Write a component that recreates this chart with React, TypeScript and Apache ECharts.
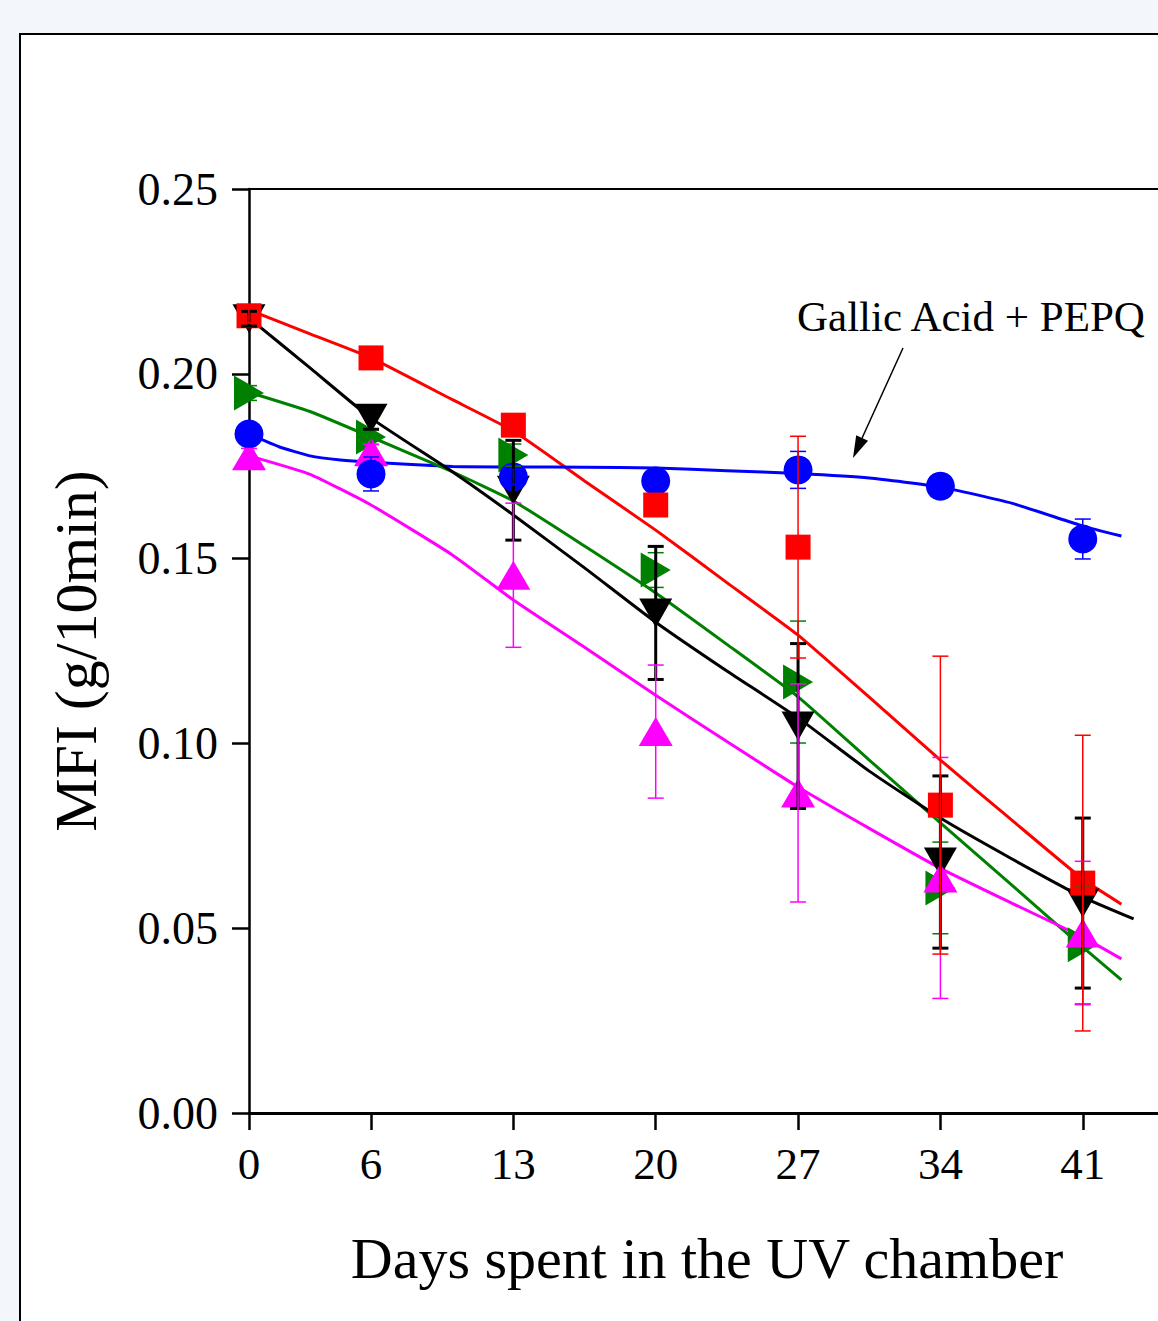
import React, { useEffect, useRef } from "react";
import * as echarts from "echarts";

// ---- data ----
const days = [0, 6, 13, 20, 27, 34, 41];
const tickDays = [0, 6, 13, 20, 27, 34, 41];

const redMean = [0.2157, 0.2043, 0.1861, 0.1645, 0.1531, 0.0833, 0.0622];
const redErr = [0.002, 0.002, 0.003, 0.002, 0.03, 0.0403, 0.04];
const blueMean = [0.1837, 0.1729, 0.1721, 0.171, 0.174, 0.1696, 0.1553];
const blueErr = [0.002, 0.0046, 0.002, 0.002, 0.005, 0.002, 0.0054];
const greenMean = [0.1948, 0.1829, 0.178, 0.1469, 0.1166, 0.0609, 0.0455];
const greenErr = [0.002, 0.002, 0.003, 0.0047, 0.0165, 0.0124, 0.016];
const blackMean = [0.2149, 0.188, 0.1685, 0.1353, 0.1047, 0.0679, 0.0568];
const blackErr = [0.002, 0.003, 0.0135, 0.018, 0.0223, 0.0233, 0.023];
const magentaMean = [0.1778, 0.1789, 0.1455, 0.1032, 0.0866, 0.0636, 0.0487];
const magentaErr = [0.002, 0.002, 0.0195, 0.018, 0.0295, 0.0326, 0.0194];

// fitted curves
const fitDays = [0, 3, 6, 10, 13, 16.5, 20, 23.5, 27, 30.5, 34, 37.5, 41, 42.9];
const blueFitDays = [0, 1.5, 3, 4.5, 6, 10, 13, 16.5, 20, 23.5, 27, 30.5, 34, 37.5, 41, 42.9];
const blackFitDays = [0, 3, 6, 10, 13, 16.5, 20, 23.5, 27, 30.5, 34, 37.5, 41, 43.5];
const redFit = [0.2173, 0.2108, 0.2043, 0.193, 0.1845, 0.171, 0.1577, 0.1435, 0.1293, 0.1125, 0.0955, 0.0793, 0.0633, 0.0565];
const blueFit = [0.1837, 0.1802, 0.1778, 0.1767, 0.1761, 0.1749, 0.1748, 0.1747, 0.1745, 0.1738, 0.173, 0.1718, 0.1694, 0.165, 0.1588, 0.1561];
const greenFit = [0.195, 0.1898, 0.1829, 0.1735, 0.1656, 0.1534, 0.1407, 0.1268, 0.1126, 0.0955, 0.0785, 0.0617, 0.0449, 0.036];
const blackFit = [0.2151, 0.2016, 0.188, 0.1735, 0.1618, 0.1475, 0.1328, 0.1196, 0.1069, 0.0925, 0.0798, 0.0688, 0.0584, 0.0525];
const magentaFit = [0.1778, 0.1728, 0.1645, 0.151, 0.1388, 0.126, 0.113, 0.1005, 0.0882, 0.077, 0.0662, 0.0568, 0.0476, 0.0417];

const FONT = '"Liberation Serif", "Times New Roman", serif';

const RED = "#ff0000";
const BLUE = "#0000ff";
const GREEN = "#008000";
const BLACK = "#000000";
const MAGENTA = "#ff00ff";

function zip(xs: number[], ys: number[]) {
  return xs.map((x, i) => [x, ys[i]]);
}
function zip3(xs: number[], ys: number[], es: number[]) {
  return xs.map((x, i) => [x, ys[i], es[i]]);
}

function fitSeries(xs: number[], ys: number[], color: string) {
  return {
    type: "line",
    data: zip(xs, ys),
    showSymbol: false,
    smooth: 0.15,
    lineStyle: { color, width: 3 },
    z: 2,
    silent: true,
  };
}

function markerSeries(ys: number[], color: string, symbol: string, size: any, rotate: number, z: number) {
  return {
    type: "scatter",
    data: zip(days, ys),
    symbol,
    symbolSize: size,
    symbolRotate: rotate,
    itemStyle: { color, opacity: 1 },
    z,
  };
}

function errSeries(ys: number[], es: number[], color: string, width: number, z: number) {
  return {
    type: "custom",
    data: zip3(days, ys, es),
    encode: { x: 0, y: 1 },
    z,
    silent: true,
    renderItem: (params: any, api: any) => {
      const x = api.value(0);
      const y = api.value(1);
      const e = api.value(2);
      const top = api.coord([x, y + e]);
      const bot = api.coord([x, y - e]);
      const cap = 8;
      const style = { stroke: color, lineWidth: width };
      return {
        type: "group",
        children: [
          { type: "line", shape: { x1: top[0], y1: top[1], x2: bot[0], y2: bot[1] }, style },
          { type: "line", shape: { x1: top[0] - cap, y1: top[1], x2: top[0] + cap, y2: top[1] }, style },
          { type: "line", shape: { x1: bot[0] - cap, y1: bot[1], x2: bot[0] + cap, y2: bot[1] }, style },
        ],
      };
    },
  };
}

export default function App() {
  const ref = useRef<HTMLDivElement>(null);

  useEffect(() => {
    if (!ref.current) return;
    const chart = echarts.init(ref.current, undefined, { renderer: "svg" });

    const tipX = 853, tipY = 458, startX = 903, startY = 348;
    const dx = tipX - startX, dy = tipY - startY;
    const len = Math.sqrt(dx * dx + dy * dy);
    const ux = dx / len, uy = dy / len;
    const headLen = 22, headHalf = 6.5;
    const bx = tipX - ux * headLen, by = tipY - uy * headLen;
    const px = -uy, py = ux;

    chart.setOption({
      animation: false,
      backgroundColor: "transparent",
      grid: { left: 249, top: 189, right: 0, height: 924, containLabel: false },
      xAxis: [
        {
          type: "value",
          min: 0,
          max: 44.7,
          position: "bottom",
          axisLine: { show: true, onZero: false, lineStyle: { color: BLACK, width: 3 } },
          axisTick: { show: true, inside: false, length: 17, lineStyle: { color: BLACK, width: 2.5 }, customValues: tickDays },
          axisLabel: { show: true, customValues: tickDays, color: BLACK, fontFamily: FONT, fontSize: 45, margin: 28 },
          splitLine: { show: false },
        },
        {
          type: "value",
          min: 0,
          max: 44.7,
          position: "top",
          axisLine: { show: true, onZero: false, lineStyle: { color: BLACK, width: 2 } },
          axisTick: { show: false },
          axisLabel: { show: false },
          splitLine: { show: false },
        },
      ],
      yAxis: [
        {
          type: "value",
          min: 0,
          max: 0.25,
          interval: 0.05,
          position: "left",
          axisLine: { show: true, onZero: false, lineStyle: { color: BLACK, width: 2.5 } },
          axisTick: { show: true, inside: false, length: 17, lineStyle: { color: BLACK, width: 2.5 } },
          axisLabel: {
            color: BLACK,
            fontFamily: FONT,
            fontSize: 46,
            margin: 31,
            formatter: (v: number) => v.toFixed(2),
          },
          splitLine: { show: false },
        },
      ],
      graphic: [
        {
          type: "text",
          x: 707,
          y: 1258,
          style: {
            text: "Days spent in the UV chamber",
            fontFamily: FONT,
            fontSize: 58,
            fill: BLACK,
            textAlign: "center",
            textVerticalAlign: "middle",
          },
        },
        {
          type: "text",
          x: 76,
          y: 651,
          rotation: Math.PI / 2,
          style: {
            text: "MFI (g/10min)",
            fontFamily: FONT,
            fontSize: 60,
            fill: BLACK,
            textAlign: "center",
            textVerticalAlign: "middle",
          },
        },
        {
          type: "text",
          x: 797,
          y: 316,
          style: {
            text: "Gallic Acid + PEPQ",
            fontFamily: FONT,
            fontSize: 43,
            fill: BLACK,
            textAlign: "left",
            textVerticalAlign: "middle",
          },
        },
        {
          type: "line",
          shape: { x1: startX, y1: startY, x2: bx, y2: by },
          style: { stroke: BLACK, lineWidth: 1.5 },
        },
        {
          type: "polygon",
          shape: {
            points: [
              [tipX, tipY],
              [bx + px * headHalf, by + py * headHalf],
              [bx - px * headHalf, by - py * headHalf],
            ],
          },
          style: { fill: BLACK },
        },
      ],
      series: [
        fitSeries(fitDays, redFit, RED),
        fitSeries(blueFitDays, blueFit, BLUE),
        fitSeries(fitDays, greenFit, GREEN),
        fitSeries(blackFitDays, blackFit, BLACK),
        fitSeries(fitDays, magentaFit, MAGENTA),
        markerSeries(greenMean, GREEN, "triangle", [35, 30], -90, 3),
        markerSeries(blackMean, BLACK, "triangle", [33, 29], 180, 4),
        markerSeries(magentaMean, MAGENTA, "triangle", [34, 29], 0, 5),
        markerSeries(blueMean, BLUE, "circle", 29, 0, 6),
        markerSeries(redMean, RED, "rect", 25, 0, 7),
        errSeries(greenMean, greenErr, GREEN, 1.5, 8),
        errSeries(blackMean, blackErr, BLACK, 3, 8),
        errSeries(magentaMean, magentaErr, MAGENTA, 1.5, 9),
        errSeries(blueMean, blueErr, BLUE, 1.5, 9),
        errSeries(redMean, redErr, RED, 1.5, 10),
      ],
    });

    return () => chart.dispose();
  }, []);

  return (
    <div
      style={{
        position: "absolute",
        left: 0,
        top: 0,
        width: 1158,
        height: 1321,
        overflow: "hidden",
        background: "#f3f6fa",
      }}
    >
      <div
        style={{
          position: "absolute",
          left: 19,
          top: 33,
          width: 1300,
          height: 1400,
          background: "#ffffff",
          border: "2px solid #000",
        }}
      />
      <div ref={ref} style={{ position: "absolute", left: 0, top: 0, width: 1158, height: 1321 }} />
    </div>
  );
}
